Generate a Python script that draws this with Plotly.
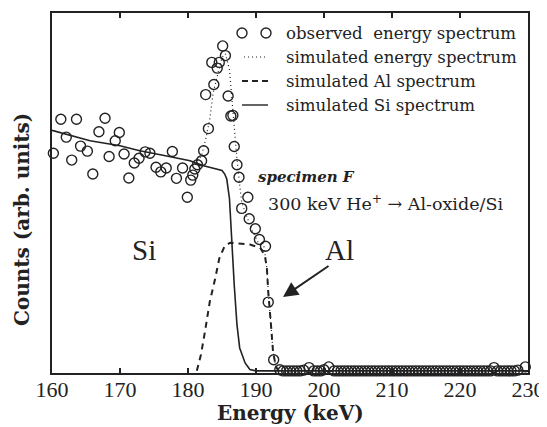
import plotly.graph_objects as go

# ---------------- data ----------------
obs_energy = [160.2, 161.3, 162.1, 162.9, 163.6, 164.2, 165.2, 166.0, 166.9, 167.8,
              168.4, 169.3, 169.9, 170.6, 171.3, 172.1, 172.8, 173.7, 174.4, 175.3,
              176.0, 176.8, 177.7, 178.3, 179.2, 179.9, 180.4, 180.7, 181.0, 181.4,
              182.0, 182.3, 182.6, 183.0, 183.5, 183.8, 184.3, 184.6, 185.1, 185.5,
              185.9, 186.3, 186.6, 186.8, 187.2, 187.5, 187.9, 188.8, 189.0, 189.9,
              190.5, 191.4, 191.8, 192.6,
              193.5, 194.0, 194.5, 195.0, 195.5, 196.0, 196.5, 197.0, 197.8, 198.5,
              199.0, 199.5, 200.0, 200.7, 201.5, 202.0, 202.5, 203.0, 203.5, 204.0,
              204.5, 205.0, 205.5, 206.0, 206.5, 207.0, 207.5, 208.0, 208.5, 209.0,
              209.5, 210.0, 210.5, 211.0, 211.5, 212.0, 212.5, 213.0, 213.5, 214.0,
              214.5, 215.0, 215.5, 216.0, 216.5, 217.0, 217.5, 218.0, 218.5, 219.0,
              219.5, 220.0, 220.5, 221.0, 221.5, 222.0, 222.5, 223.0, 223.5, 224.0,
              224.5, 225.0, 225.5, 226.0, 226.5, 227.0, 227.5, 228.0, 228.5, 229.6]
obs_counts = [60.8, 70.3, 65.3, 58.9, 70.3, 62.8, 61.4, 55.0, 66.8, 70.6,
              59.9, 64.3, 66.6, 60.6, 53.9, 58.1, 59.4, 61.2, 60.8, 56.9,
              55.6, 56.7, 61.3, 53.8, 56.7, 48.5, 53.3, 54.7, 56.4, 57.6,
              58.7, 61.5, 77.2, 67.7, 86.2, 80.0, 84.6, 86.2, 90.8, 88.1,
              76.8, 71.2, 71.4, 62.7, 57.6, 54.1, 45.4, 48.5, 42.5, 39.7,
              36.7, 34.8, 19.2, 3.1,
              0.3, 0.0, 0.0, 0.0, 0.0, 0.0, 0.0, 0.2, 0.9, 0.0,
              0.0, 0.0, 0.3, 1.1, 0.0, 0.0, 0.0, 0.0, 0.0, 0.0,
              0.0, 0.0, 0.0, 0.0, 0.0, 0.0, 0.0, 0.0, 0.0, 0.0,
              0.0, 0.0, 0.0, 0.0, 0.0, 0.0, 0.0, 0.0, 0.0, 0.0,
              0.0, 0.0, 0.0, 0.0, 0.0, 0.0, 0.0, 0.0, 0.0, 0.0,
              0.0, 0.0, 0.0, 0.0, 0.0, 0.0, 0.0, 0.0, 0.0, 0.0,
              0.0, 0.9, 0.0, 0.0, 0.0, 0.0, 0.0, 0.0, 0.2, 1.1]

si_energy = [160.0, 165.6, 170.0, 172.9, 176.5, 180.3, 182.3, 184.7, 185.0, 185.4,
             185.7, 186.1, 186.4, 186.8, 187.2, 187.6, 188.4, 189.1, 190.0, 230.0]
si_counts = [67.2, 64.3, 62.9, 61.5, 60.2, 58.7, 57.3, 56.3, 56.0, 55.0,
             53.6, 48.1, 36.0, 24.0, 12.9, 6.4, 2.2, 0.4, 0.0, 0.0]

al_energy = [181.3, 181.9, 182.5, 183.2, 184.0, 184.6, 185.4, 186.2, 187.4, 189.1,
             190.6, 191.3, 191.6, 191.8, 192.2, 192.5, 192.9, 193.3]
al_counts = [0.0, 4.5, 11.0, 19.3, 25.8, 31.4, 34.9, 35.8, 35.6, 35.3,
             34.4, 32.3, 28.6, 22.1, 12.9, 5.5, 1.3, 0.0]

sim_energy = [181.0, 182.0, 182.7, 183.2, 183.7, 184.5, 185.0, 185.5, 186.1, 186.3,
              186.6, 186.9, 187.2, 187.5, 187.9, 188.6, 189.4, 190.3, 191.2, 191.6,
              191.8, 192.2, 192.5, 192.9, 193.3]
sim_counts = [57.8, 60.1, 65.6, 70.3, 77.7, 84.2, 87.6, 88.6, 84.2, 79.6,
              72.1, 64.7, 59.2, 53.6, 47.1, 43.4, 39.3, 36.0, 34.6, 28.6,
              22.1, 12.9, 5.5, 1.3, 0.0]

x_ticks = [160, 170, 180, 190, 200, 210, 220, 230]

legend_labels = ["observed  energy spectrum", "simulated energy spectrum",
                 "simulated Al spectrum", "simulated Si spectrum"]

INK = "#222222"

# ---------------- figure ----------------
fig = go.Figure()
fig.add_trace(go.Scatter(x=si_energy, y=si_counts, mode="lines",
                         line=dict(color=INK, width=1.6), name=legend_labels[3]))
fig.add_trace(go.Scatter(x=al_energy, y=al_counts, mode="lines",
                         line=dict(color=INK, width=2, dash="6px,5px"), name=legend_labels[2]))
fig.add_trace(go.Scatter(x=sim_energy, y=sim_counts, mode="lines",
                         line=dict(color=INK, width=1.2, dash="1px,3px"), name=legend_labels[1]))
fig.add_trace(go.Scatter(x=obs_energy, y=obs_counts, mode="markers", cliponaxis=False,
                         marker=dict(symbol="circle-open", size=10, color=INK,
                                     line=dict(width=1.4, color=INK)),
                         name=legend_labels[0]))

# page has an 8px body margin: size the figure so the plot area lands at the
# reference pixel positions (x 52..528, y 13..373 in the 547x427 window)
OFF = 8
W, H = 547 - OFF, 427 - OFF
X0, X1, Y0, Y1 = 52, 528, 13, 373
L, R, T, B = X0 - OFF, 547 - X1, Y0 - OFF, 427 - Y1
pw, ph = X1 - X0, Y1 - Y0


def px(xp):
    return (xp - X0) / pw


def py(yp):
    return (Y1 - yp) / ph


annotations = []
legend_y = [33, 57, 81, 105]
for lab, yy in zip(legend_labels, legend_y):
    annotations.append(dict(x=px(284), y=py(yy), xref="paper", yref="paper", text=lab,
                            showarrow=False, xanchor="left", yanchor="middle",
                            font=dict(family="DejaVu Serif", size=16.6, color=INK)))

annotations += [
    dict(x=px(256), y=py(177), xref="paper", yref="paper", text="<b><i>specimen F</i></b>",
         showarrow=False, xanchor="left", yanchor="middle",
         font=dict(family="DejaVu Serif", size=15, color=INK)),
    dict(x=px(266), y=py(203), xref="paper", yref="paper",
         text="300 keV He<sup>+</sup> \u2192 Al-oxide/Si",
         showarrow=False, xanchor="left", yanchor="middle",
         font=dict(family="DejaVu Serif", size=17.5, color=INK)),
    dict(x=px(130), y=py(250), xref="paper", yref="paper", text="Si", showarrow=False,
         font=dict(family="Liberation Serif", size=29, color=INK)),
    dict(x=px(339), y=py(250), xref="paper", yref="paper", text="Al", showarrow=False,
         font=dict(family="Liberation Serif", size=29, color=INK)),
    dict(x=px(283), y=py(297), xref="paper", yref="paper", text="", showarrow=True,
         ax=47, ay=-32, arrowhead=2, arrowsize=1.5, arrowwidth=2, arrowcolor=INK),
    # axis titles
    dict(x=px(290), y=py(413), xref="paper", yref="paper", text="<b>Energy (keV)</b>",
         showarrow=False, xanchor="center", yanchor="middle",
         font=dict(family="DejaVu Serif", size=20, color=INK)),
    dict(x=px(22), y=py(220), xref="paper", yref="paper",
         text="<b>Counts (arb. units)</b>", textangle=-90,
         showarrow=False, xanchor="center", yanchor="middle",
         font=dict(family="DejaVu Serif", size=20, color=INK)),
]

# legend samples
shapes = []
for cx in (242, 266):
    shapes.append(dict(type="circle", xref="paper", yref="paper",
                       x0=px(cx - 5), x1=px(cx + 5), y0=py(33 + 5), y1=py(33 - 5),
                       line=dict(color=INK, width=1.4)))
shapes.append(dict(type="line", xref="paper", yref="paper", x0=px(244), x1=px(268),
                   y0=py(57), y1=py(57), line=dict(color=INK, width=1.2, dash="1px,3px")))
shapes.append(dict(type="line", xref="paper", yref="paper", x0=px(242), x1=px(268),
                   y0=py(81), y1=py(81), line=dict(color=INK, width=2, dash="6px,4px")))
shapes.append(dict(type="line", xref="paper", yref="paper", x0=px(242), x1=px(268),
                   y0=py(105), y1=py(105), line=dict(color=INK, width=1.4)))

fig.update_layout(
    width=W, height=H,
    margin=dict(l=L, r=R, t=T, b=B),
    paper_bgcolor="white", plot_bgcolor="white",
    showlegend=False,
    annotations=annotations,
    shapes=shapes,
    xaxis=dict(range=[160, 230], tickvals=x_ticks, ticks="inside", ticklen=5,
               tickwidth=1.5, tickcolor=INK, showline=True, linecolor=INK, linewidth=2,
               mirror="ticks", showgrid=False, zeroline=False, automargin=False,
               ticklabelstandoff=-4,
               tickfont=dict(family="Liberation Serif", size=22, color=INK)),
    yaxis=dict(range=[-0.6, 100], showticklabels=False, ticks="", showline=True,
               linecolor=INK, linewidth=2, mirror=True, showgrid=False, zeroline=False,
               automargin=False),
)

fig.write_html("out.html")
